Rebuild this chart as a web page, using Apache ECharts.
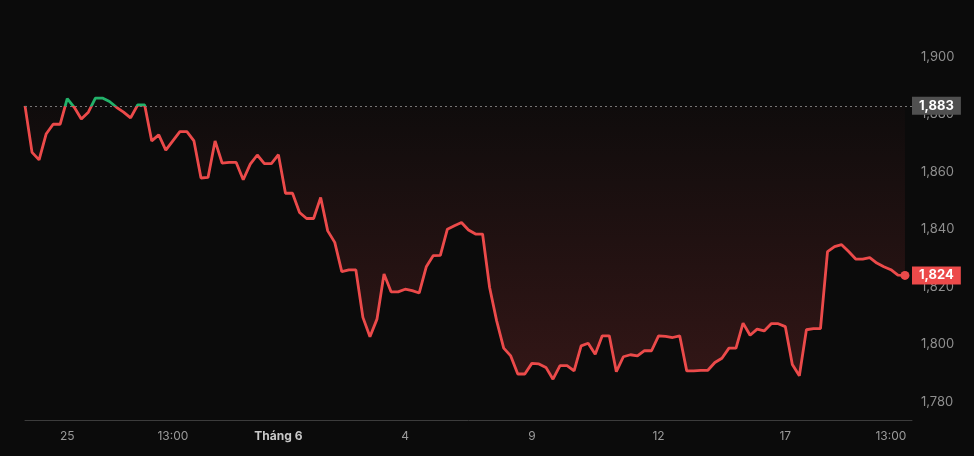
<!DOCTYPE html>
<html>
<head>
<meta charset="utf-8">
<script src="https://cdn.jsdelivr.net/npm/echarts@6/dist/echarts.min.js"></script>
<style>
  html, body { margin: 0; padding: 0; background: #0b0b0b; }
  #chart { width: 974px; height: 456px; }
</style>
</head>
<body>
<div id="chart"></div>
<script>
// phiên giao dịch: ngày x giờ
var dayLabels = ['22/05','25/05','26/05','27/05','28/05','29/05','01/06','02/06','03/06','04/06','05/06',
                 '08/06','09/06','10/06','11/06','12/06','15/06','16/06','17/06','18/06','19/06'];
var sessionTimes = ['09:00','10:00','11:00','13:00','14:00','14:45'];

// giá trị chỉ số
var prices = [
  1883, 1866.8, 1864.2, 1873.2, 1876.6, 1876.6, 1885.5, 1882.5, 1878.4, 1880.8,
  1885.7, 1885.7, 1884.5, 1882.5, 1880.8, 1878.8, 1883.3, 1883.3, 1870.8, 1872.9,
  1867.6, 1870.8, 1874, 1874, 1870.8, 1857.9, 1858.1, 1870.8, 1863.1, 1863.3,
  1863.3, 1857.3, 1862.7, 1865.9, 1862.9, 1862.9, 1866, 1852.6, 1852.6, 1845.9,
  1843.8, 1843.8, 1851.1, 1839.5, 1835.5, 1825.3, 1825.9, 1825.9, 1809.4, 1802.7,
  1808.8, 1824.5, 1818.3, 1818.3, 1819.2, 1818.7, 1817.9, 1827, 1830.9, 1831,
  1840.1, 1841.3, 1842.4, 1839.8, 1838.4, 1838.4, 1819.8, 1808.2, 1798.7, 1796,
  1789.7, 1789.7, 1793.4, 1793.2, 1792, 1787.9, 1792.6, 1792.6, 1790.8, 1799.5,
  1800.4, 1796.6, 1803, 1803, 1790.5, 1795.7, 1796.4, 1796, 1797.8, 1797.8,
  1803, 1802.8, 1802.4, 1803, 1790.8, 1790.8, 1791, 1791, 1793.7, 1795.2,
  1798.7, 1798.7, 1807.4, 1803.2, 1805.3, 1804.7, 1807.2, 1807.2, 1806.2, 1793,
  1789.1, 1805.1, 1805.5, 1805.5, 1832.3, 1834, 1834.7, 1832.3, 1829.7, 1829.7,
  1830.2, 1828.3, 1827, 1826, 1824.1, 1824
];

var prevClose = 1883;
var lastPrice = 1824;

// nhãn trục x
var tickCats = ['25/05 09:00','27/05 13:00','01/06 09:00','04/06 09:00','09/06 09:00','12/06 09:00','17/06 09:00','19/06 13:00'];
var tickText = ['25','13:00','Tháng 6','4','9','12','17','13:00'];
var tickBold = [false, false, true, false, false, false, false, false];

// nhãn trục y
var yTicks = [1780, 1800, 1820, 1840, 1860, 1880, 1900];

var categories = [];
dayLabels.forEach(function (d) {
  sessionTimes.forEach(function (t) { categories.push(d + ' ' + t); });
});
categories.push('');  // khoảng trống cuối trục

var RED = '#ec4a4a';
var GREEN = '#22b26a';

function fmt(v) { return Number(v).toLocaleString('en-US'); }

var chart = echarts.init(document.getElementById('chart'));

var option = {
  backgroundColor: '#0b0b0b',
  animation: false,
  textStyle: { fontFamily: 'Inter, Roboto, sans-serif' },
  grid: { left: 25, right: 62, top: 22.5, bottom: 36 },
  visualMap: {
    type: 'piecewise',
    show: false,
    seriesIndex: 0,
    dimension: 1,
    pieces: [
      { gt: 1700, lte: prevClose, color: RED },
      { gt: prevClose, lte: 2000, color: GREEN }
    ],
    outOfRange: { color: RED }
  },
  xAxis: {
    type: 'category',
    data: categories,
    boundaryGap: false,
    axisLine: { lineStyle: { color: '#3c3c3c', width: 1 } },
    axisTick: { show: false },
    splitLine: { show: false },
    axisLabel: {
      color: '#9a9a9a',
      fontSize: 12,
      margin: 10,
      interval: function (idx, val) { return tickCats.indexOf(val) >= 0; },
      formatter: function (val) {
        var k = tickCats.indexOf(val);
        if (k < 0) return '';
        return tickBold[k] ? '{b|' + tickText[k] + '}' : tickText[k];
      },
      rich: { b: { fontWeight: 'bold', color: '#c8c8c8', fontSize: 12 } }
    }
  },
  yAxis: {
    type: 'value',
    position: 'right',
    min: 1773.7,
    max: 1912,
    axisLine: { show: false },
    axisTick: { show: false },
    splitLine: { show: false },
    axisLabel: {
      color: '#8f8f8f',
      fontSize: 13,
      margin: 9,
      padding: [3, 0, 0, 0],
      customValues: yTicks,
      formatter: fmt
    }
  },
  series: [{
    type: 'line',
    data: prices,
    showSymbol: false,
    lineStyle: { width: 2.8 },
    areaStyle: {
      origin: prevClose,
      color: new echarts.graphic.LinearGradient(0, 0, 0, 1, [
        { offset: 0, color: 'rgba(236,74,74,0.02)' },
        { offset: 1, color: 'rgba(236,74,74,0.25)' }
      ])
    },
    markLine: {
      silent: true,
      symbol: ['none', 'none'],
      data: [
        {
          yAxis: prevClose,
          lineStyle: { color: '#777', type: [2, 3], width: 1 },
          label: {
            position: 'end', distance: 0, formatter: fmt(prevClose),
            color: '#fff', fontWeight: 'bold', fontSize: 13,
            backgroundColor: '#505050', padding: [3, 7, 2, 7]
          }
        },
        {
          yAxis: lastPrice,
          lineStyle: { color: 'rgba(0,0,0,0)', width: 0 },
          label: {
            position: 'end', distance: 0, formatter: fmt(lastPrice),
            color: '#fff', fontWeight: 'bold', fontSize: 13,
            backgroundColor: RED, padding: [3, 7, 2, 7]
          }
        }
      ]
    },
    markPoint: {
      silent: true,
      symbol: 'circle',
      symbolSize: 9,
      label: { show: false },
      itemStyle: { color: RED },
      data: [{ coord: [categories[prices.length - 1], lastPrice] }]
    }
  }]
};

chart.setOption(option);
</script>
</body>
</html>
